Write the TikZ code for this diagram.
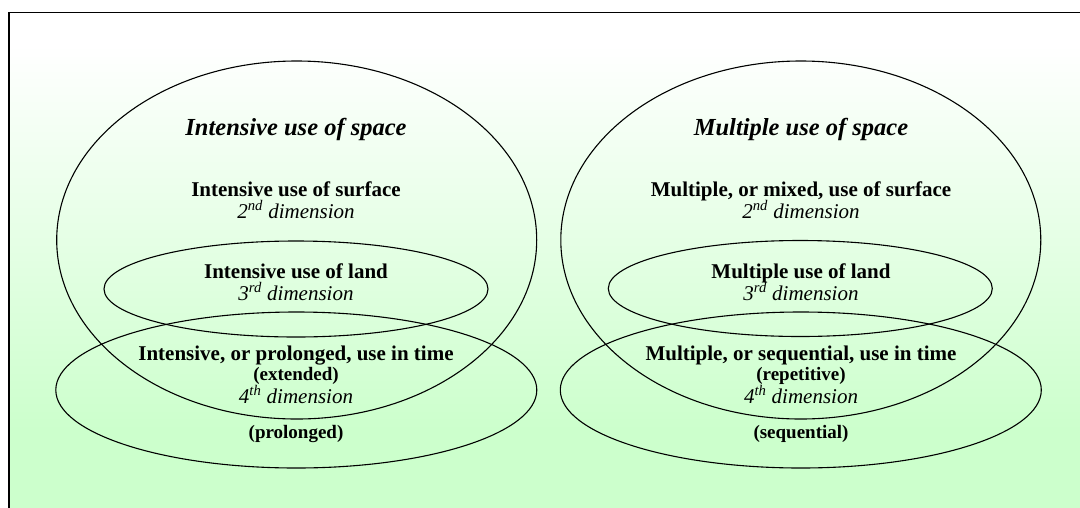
\documentclass[tikz,border=0pt]{standalone}
\usepackage{fontspec}
\setmainfont{Liberation Serif}
\usetikzlibrary{shapes.geometric}
\definecolor{paleGreen}{HTML}{CCFFCC}
\begin{document}
\begin{tikzpicture}[x=1pt,y=-1pt,
  ring/.style={draw=black, line width=1.1pt, ellipse, inner sep=0pt, outer sep=0pt},
  headtxt/.style={font=\fontsize{24.5}{27}\selectfont\bfseries\itshape, anchor=base, inner sep=0pt},
  maintxt/.style={font=\fontsize{21}{23}\selectfont\bfseries, anchor=base, inner sep=0pt},
  dimtxt/.style={font=\fontsize{21}{23}\selectfont\itshape, anchor=base, inner sep=0pt},
  subtxt/.style={font=\fontsize{19}{21}\selectfont\bfseries, anchor=base, inner sep=0pt}]
\useasboundingbox (0,0) rectangle (1080,507);
\clip (0,0) rectangle (1080,507);
% background: white fading to pale green
\fill[white] (0,0) rectangle (1080,507);
\shade[top color=white, bottom color=paleGreen] (9,45) rectangle (1090,430);
\fill[paleGreen] (9,429.5) rectangle (1090,520);
\draw[line width=1.1pt] (9,520) -- (9,12.5) -- (1090,12.5);

% left group: intensive use
\node[ring, minimum width=480pt, minimum height=358pt] (spaceL) at (296.7,240) {};
\node[ring, minimum width=384pt, minimum height=96pt] (landL) at (296,289) {};
\node[ring, minimum width=481pt, minimum height=156pt] (timeL) at (296.3,390) {};

% right group: multiple use
\node[ring, minimum width=480pt, minimum height=358pt] (spaceR) at (800.8,240) {};
\node[ring, minimum width=384pt, minimum height=96pt] (landR) at (800.3,288.5) {};
\node[ring, minimum width=481pt, minimum height=156pt] (timeR) at (800.8,390) {};

% left labels
\node[headtxt] (headL) at (296,135) {Intensive use of space};
\node[maintxt] (surfL) at (296,196.7) {Intensive use of surface};
\node[dimtxt] (dim2L) at (296,218.5) {2\textsuperscript{nd} dimension};
\node[maintxt] (landtL) at (296,278.3) {Intensive use of land};
\node[dimtxt] (dim3L) at (296,300) {3\textsuperscript{rd} dimension};
\node[maintxt] (timetL) at (296,360.7) {Intensive, or prolonged, use in time};
\node[subtxt] (extL) at (296,380.7) {(extended)};
\node[dimtxt] (dim4L) at (296,403.3) {4\textsuperscript{th} dimension};
\node[subtxt] (proL) at (296,438.3) {(prolonged)};

% right labels
\node[headtxt] (headR) at (801,135) {Multiple use of space};
\node[maintxt] (surfR) at (801,196.7) {Multiple, or mixed, use of surface};
\node[dimtxt] (dim2R) at (801,218.5) {2\textsuperscript{nd} dimension};
\node[maintxt] (landtR) at (801,278.3) {Multiple use of land};
\node[dimtxt] (dim3R) at (801,300) {3\textsuperscript{rd} dimension};
\node[maintxt] (timetR) at (801,360.7) {Multiple, or sequential, use in time};
\node[subtxt] (repR) at (801,380.7) {(repetitive)};
\node[dimtxt] (dim4R) at (801,403.3) {4\textsuperscript{th} dimension};
\node[subtxt] (seqR) at (801,438.3) {(sequential)};
\end{tikzpicture}
\end{document}
